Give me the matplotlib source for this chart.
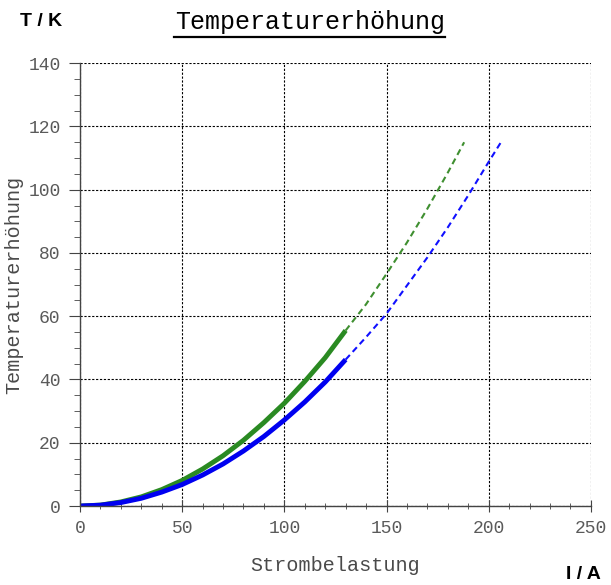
import matplotlib.pyplot as plt
from matplotlib.ticker import MultipleLocator
from matplotlib.lines import Line2D

# measured part (solid)
i_meas = [0, 10, 20, 30, 40, 50, 60, 70, 80, 90, 100, 110, 120, 130]
t_green = [0, 0.3, 1.3, 2.9, 5.2, 8.1, 11.7, 15.9, 20.8, 26.4, 32.5, 39.4, 46.9, 55.5]
t_blue = [0, 0.27, 1.1, 2.45, 4.4, 6.8, 9.8, 13.3, 17.4, 22.0, 27.2, 32.9, 39.2, 46.3]

# extrapolated part (dashed)
i_green_ext = [130, 140, 150, 160, 170, 180, 188]
t_green_ext = [55.5, 63.8, 73.4, 83.3, 94.0, 105.4, 115]
i_blue_ext = [130, 140, 150, 160, 170, 180, 190, 200, 206]
t_blue_ext = [46.3, 53.4, 60.8, 69.7, 78.6, 88.1, 98.2, 108.8, 115]

mono = 'Liberation Mono'
sans = 'Liberation Sans'

fig = plt.figure(figsize=(6.11, 5.85), dpi=100)
ax = fig.add_axes([0.131, 0.135, 0.836, 0.757])

ax.plot(i_green_ext, t_green_ext, color='#3f8f30', lw=1.5, ls=(0, (3, 2)))
ax.plot(i_blue_ext, t_blue_ext, color='#1010ff', lw=1.5, ls=(0, (3, 2)))
ax.plot(i_meas, t_green, color='#2a8a22', lw=3.5, solid_capstyle='butt')
ax.plot(i_meas, t_blue, color='#0000f0', lw=3.5, solid_capstyle='butt')

ax.set_xlim(0, 250)
ax.set_ylim(0, 140)
ax.xaxis.set_major_locator(MultipleLocator(50))
ax.xaxis.set_minor_locator(MultipleLocator(10))
ax.yaxis.set_major_locator(MultipleLocator(20))
ax.yaxis.set_minor_locator(MultipleLocator(5))
ax.grid(True, which='major', color='black', ls=(0, (2, 1.5)), lw=0.8)
ax.set_axisbelow(True)

for s in ['top', 'right']:
    ax.spines[s].set_visible(False)
for s in ['left', 'bottom']:
    ax.spines[s].set_color('#444444')
    ax.spines[s].set_linewidth(1.0)

ax.tick_params(axis='x', which='both', direction='inout', color='#444444')
ax.tick_params(axis='x', which='major', length=8)
ax.tick_params(axis='x', which='minor', length=5)
ax.tick_params(axis='y', which='both', direction='out', color='#444444')
ax.tick_params(axis='y', which='major', length=8)
ax.tick_params(axis='y', which='minor', length=4)
ax.tick_params(labelsize=13, labelcolor='#5a5a5a', pad=6)
for lab in ax.get_xticklabels() + ax.get_yticklabels():
    lab.set_fontfamily(mono)

ax.set_xlabel('Strombelastung', fontfamily=mono, fontsize=14.5, color='#4a4a4a', labelpad=14)
ax.set_ylabel('Temperaturerhöhung', fontfamily=mono, fontsize=14.5, color='#4a4a4a', labelpad=4)

fig.text(0.507, 0.963, 'Temperaturerhöhung', fontfamily=mono, fontweight='normal',
         fontsize=18, ha='center', va='center', color='black')
fig.add_artist(Line2D([0.285, 0.728], [0.937, 0.937], color='black', lw=1.6))
fig.text(0.068, 0.963, 'T / K', fontfamily=sans, fontweight='bold', fontsize=14,
         ha='center', va='center')
fig.text(0.955, 0.018, 'I / A', fontfamily=sans, fontweight='bold', fontsize=14,
         ha='center', va='center')

fig.savefig('out.png', dpi=100)
